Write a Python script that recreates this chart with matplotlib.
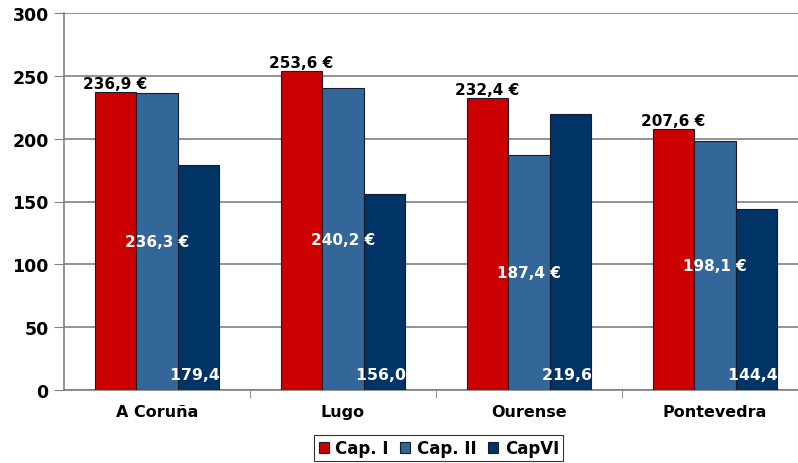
import numpy as np
import matplotlib.pyplot as plt
from matplotlib.patches import Rectangle
from matplotlib.ticker import FixedLocator, MultipleLocator

provincias = ['A Coruña', 'Lugo', 'Ourense', 'Pontevedra']
cap_i = [236.9, 253.6, 232.4, 207.6]
cap_ii = [236.3, 240.2, 187.4, 198.1]
cap_vi = [179.4, 156.0, 219.6, 144.4]
series_names = ['Cap. I', 'Cap. II', 'CapVI']

plt.rcParams['font.family'] = 'DejaVu Sans'
plt.rcParams['font.weight'] = 'bold'

fig = plt.figure(figsize=(7.98, 4.64), dpi=100)
ax = fig.add_axes([64 / 798, 73 / 464, 744 / 798, 377 / 464])

x = np.arange(len(provincias))
w = 0.223
edge = '#1a1a2e'
b1 = ax.bar(x - w, cap_i, w, color='#cc0000', edgecolor=edge, linewidth=0.8, label=series_names[0], zorder=3)
b2 = ax.bar(x, cap_ii, w, color='#336699', edgecolor=edge, linewidth=0.8, label=series_names[1], zorder=3)
b3 = ax.bar(x + w, cap_vi, w, color='#003366', edgecolor=edge, linewidth=0.8, label=series_names[2], zorder=3)

def euro(v):
    return f'{v:.1f}'.replace('.', ',') + ' €'

# Cap. I labels above bars
for xi, v in zip(x, cap_i):
    ax.text(xi - w, v + 1, euro(v), ha='center', va='bottom',
            fontsize=11, fontweight='bold', color='black', zorder=5)

# Cap. II labels in the middle of the bar
for xi, v in zip(x, cap_ii):
    ax.text(xi, v / 2, euro(v), ha='center', va='center',
            fontsize=11, fontweight='bold', color='white', zorder=5)

# CapVI labels near the bottom, cut at the bar's right edge
for xi, v in zip(x, cap_vi):
    left = xi + w / 2
    t = ax.text(left - 0.040, 12.7, euro(v), ha='left', va='center',
                fontsize=11.3, fontweight='bold', color='white', zorder=5)
    clip = Rectangle((left - 0.3, 0), 0.3 + w, 300, transform=ax.transData)
    t.set_clip_path(clip)

ax.set_ylim(0, 300)
ax.set_xlim(-0.5, 3.5)
ax.yaxis.set_major_locator(MultipleLocator(50))
ax.set_xticks(x)
ax.set_xticklabels(provincias)
ax.xaxis.set_minor_locator(FixedLocator([0.5, 1.5, 2.5]))
ax.tick_params(axis='x', which='major', length=0, pad=10, labelsize=11.5)
ax.tick_params(axis='x', which='minor', length=6, color='#808080')
ax.tick_params(axis='y', length=7, color='#808080', labelsize=12.5, pad=4)
for lab in ax.get_xticklabels() + ax.get_yticklabels():
    lab.set_fontweight('bold')

ax.grid(True, axis='y', color='#808080', linewidth=1.2, zorder=0)
ax.set_axisbelow(True)
for s in ['top', 'right']:
    ax.spines[s].set_visible(False)
for s in ['left', 'bottom']:
    ax.spines[s].set_color('#808080')
    ax.spines[s].set_linewidth(1.2)

leg = fig.legend(handles=[b1, b2, b3], loc='lower center', bbox_to_anchor=(0.55, 0.0),
                 ncol=3, frameon=True, fancybox=False, edgecolor='black',
                 prop={'size': 12, 'weight': 'bold'}, handlelength=0.6,
                 handleheight=0.6, handletextpad=0.4, columnspacing=0.7,
                 borderpad=0.25, borderaxespad=0.1)
leg.get_frame().set_linewidth(0.8)

fig.savefig('out.png', dpi=100)
